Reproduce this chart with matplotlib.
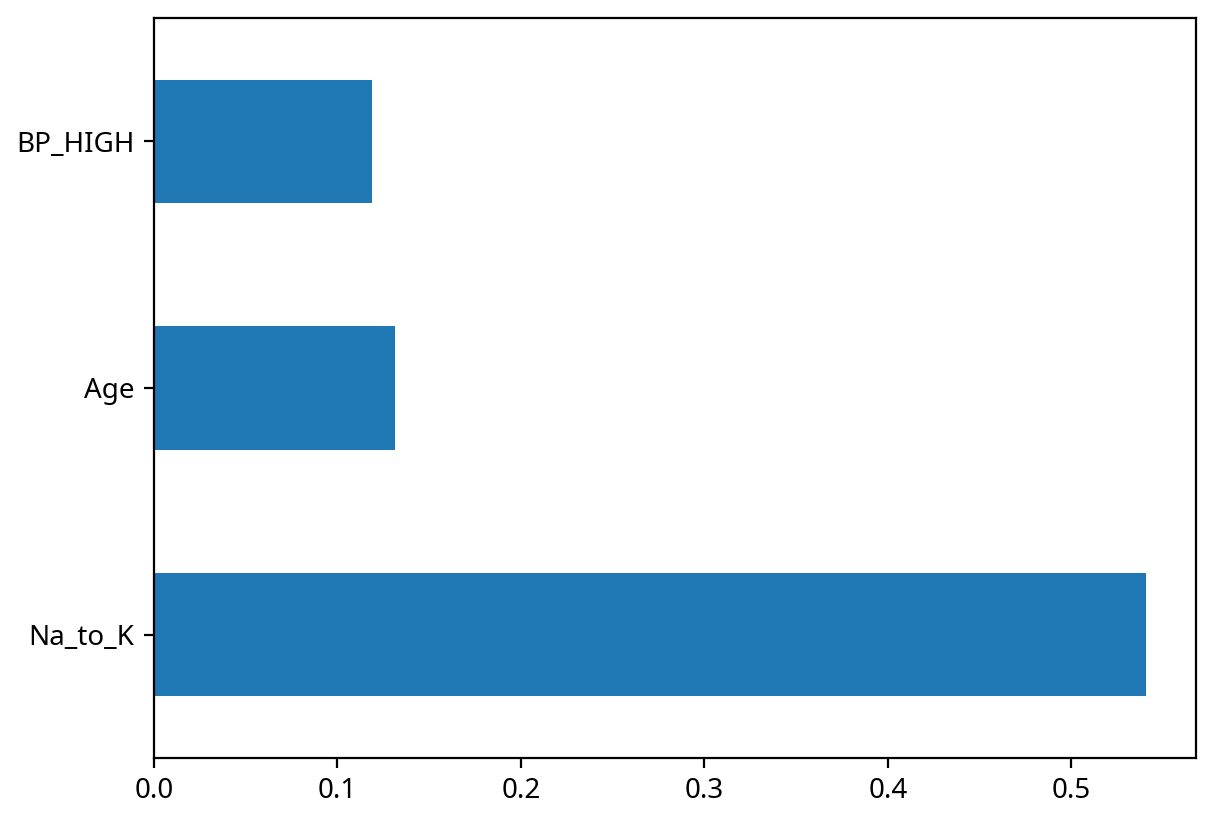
import pandas as pd
import matplotlib.pyplot as plt

plt.rcParams['font.family'] = ['Noto Sans', 'DejaVu Sans']

# feature importances, bottom to top as drawn
features = ["Na_to_K", "Age", "BP_HIGH"]
importances = [0.5409, 0.1314, 0.1189]

series = pd.Series(importances, index=features)

fig = plt.figure(figsize=(6.075, 4.11), dpi=200)
ax = fig.add_subplot(111)
series.plot(kind="barh", ax=ax, color="#1f77b4")

fig.subplots_adjust(left=0.1267, right=0.9844, top=0.978, bottom=0.078)
fig.savefig("out.png", dpi=200)
